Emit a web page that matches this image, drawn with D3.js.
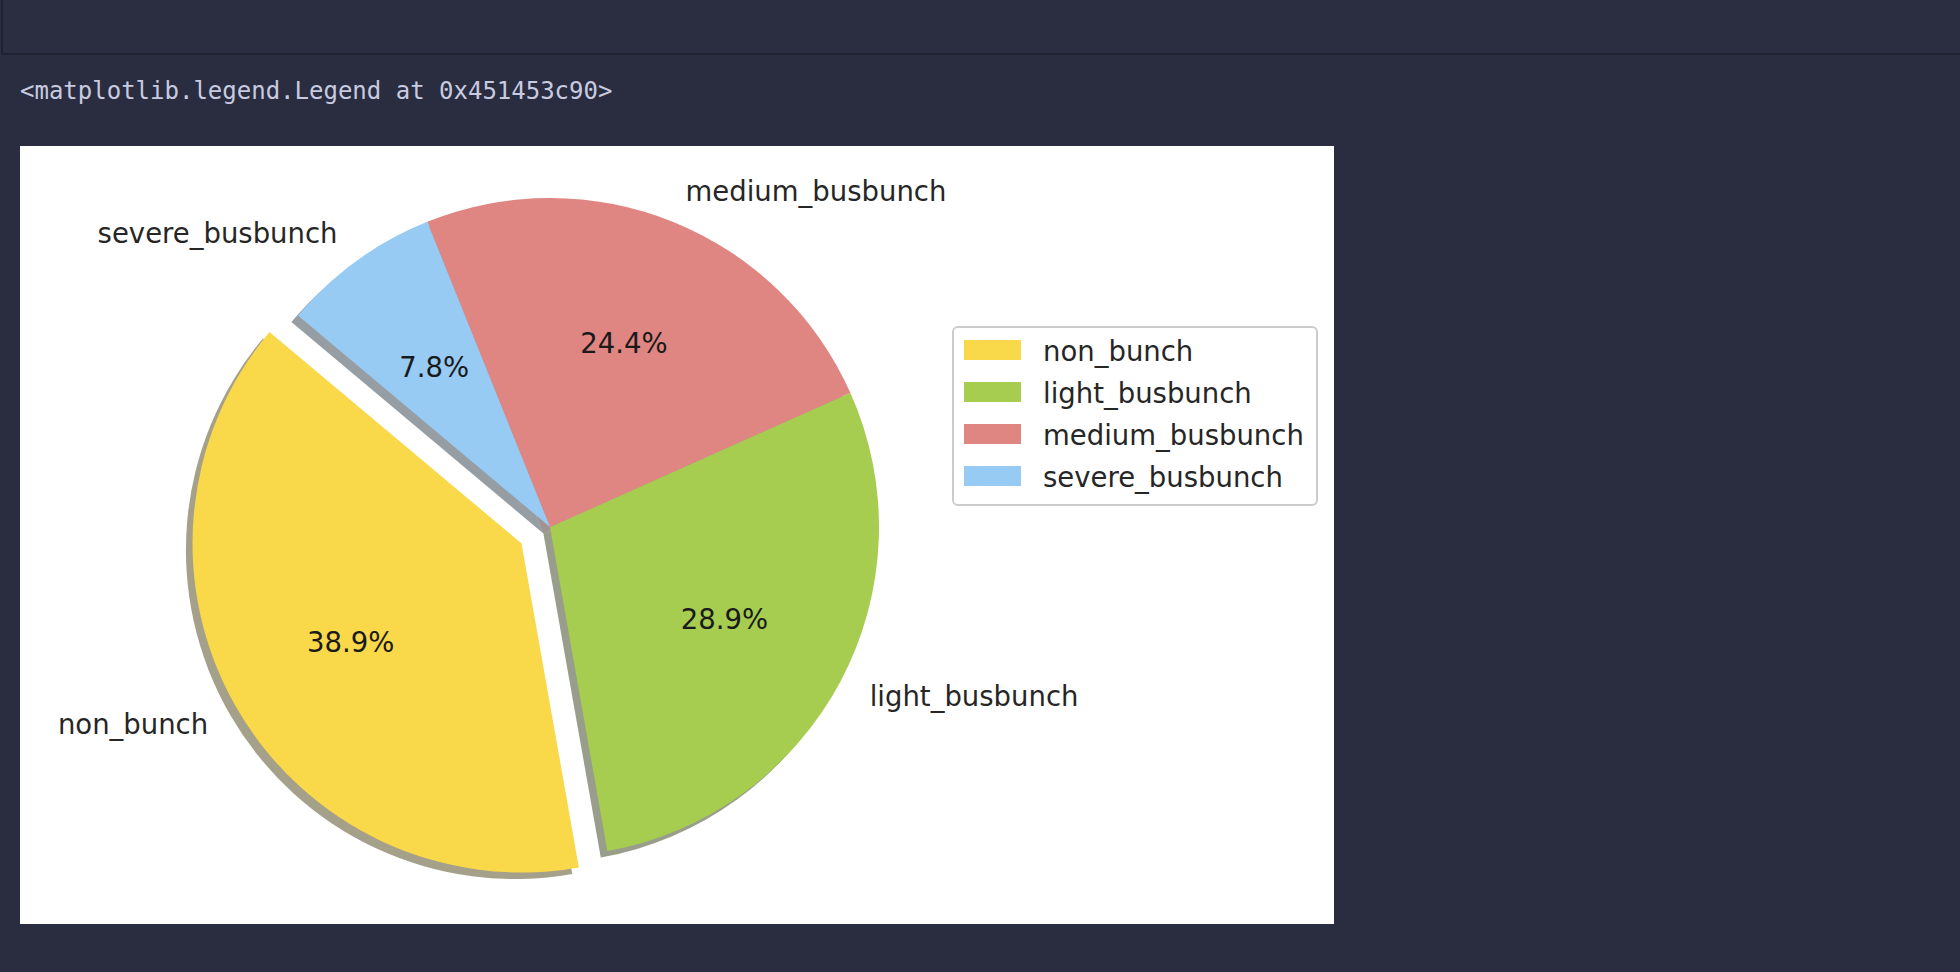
<!DOCTYPE html>
<html>
<head>
<meta charset="utf-8">
<script src="https://cdn.jsdelivr.net/npm/d3@7"></script>
<style>
  html, body { margin: 0; padding: 0; background: #2a2d3f; }
  svg { display: block; }
</style>
</head>
<body>
<svg id="chart" width="1960" height="972"></svg>
<script>
// ---- data ----
const categories = ["non_bunch", "light_busbunch", "medium_busbunch", "severe_busbunch"];
const shares = [38.9, 28.9, 24.4, 7.8];
const colors = ["#F9D84A", "#A6CD4F", "#E08682", "#97CBF4"];
const explode = [0.1, 0, 0, 0];
const headerText = "<matplotlib.legend.Legend at 0x451453c90>";

// ---- layout ----
const svg = d3.select("#chart");
const W = 1960, H = 972;

// top cell bar
svg.append("rect").attr("x", 2).attr("y", -2).attr("width", W).attr("height", 56)
  .attr("fill", "#2b2e40").attr("stroke", "#1f2230").attr("stroke-width", 2);

svg.append("text").attr("x", 20).attr("y", 99)
  .attr("font-family", "DejaVu Sans Mono, monospace").attr("font-size", 24)
  .attr("fill", "#c8cbe0").text(headerText);

// figure background
svg.append("rect").attr("x", 20).attr("y", 146).attr("width", 1314).attr("height", 778).attr("fill", "#ffffff");

const cx = 550, cy = 527, R = 329;
const fontSize = 27.5;
const font = "DejaVu Sans, sans-serif";

const data = categories.map((c, i) => ({ name: c, value: shares[i], color: colors[i], explode: explode[i] }));

// matplotlib startangle 140 (ccw) -> d3 angle 90-140 = -50 deg, going counterclockwise
const start = (90 - 140) * Math.PI / 180;
const pie = d3.pie().sort(null).value(d => d.value).startAngle(start).endAngle(start - 2 * Math.PI);
const arcs = pie(data);
const arc = d3.arc().innerRadius(0).outerRadius(R);

function mid(a) { return (a.startAngle + a.endAngle) / 2; }
function offset(a, frac) {
  const m = mid(a);
  return [Math.sin(m) * frac * R, -Math.cos(m) * frac * R];
}

const g = svg.append("g").attr("transform", `translate(${cx},${cy})`);

// shadows (drawn below all wedges)
const shadowDX = -0.02 * R, shadowDY = 0.02 * R;
g.selectAll("path.shadow").data(arcs).join("path")
  .attr("class", "shadow")
  .attr("d", arc)
  .attr("transform", a => { const o = offset(a, a.data.explode); return `translate(${o[0] + shadowDX},${o[1] + shadowDY})`; })
  .attr("fill", a => { const c = d3.rgb(a.data.color); return d3.rgb(c.r * 0.3, c.g * 0.3, c.b * 0.3); })
  .attr("fill-opacity", 0.5);

// wedges
g.selectAll("path.wedge").data(arcs).join("path")
  .attr("class", "wedge")
  .attr("d", arc)
  .attr("transform", a => { const o = offset(a, a.data.explode); return `translate(${o[0]},${o[1]})`; })
  .attr("fill", a => a.data.color);

// outer labels
g.selectAll("text.lbl").data(arcs).join("text")
  .attr("class", "lbl")
  .attr("x", a => offset(a, a.data.explode)[0] + offset(a, 1.1)[0])
  .attr("y", a => offset(a, a.data.explode)[1] + offset(a, 1.1)[1])
  .attr("dy", "0.34em")
  .attr("text-anchor", a => offset(a, 1.1)[0] > 0 ? "start" : "end")
  .attr("font-family", font).attr("font-size", fontSize).attr("fill", "#262626")
  .text(a => a.data.name);

// percentage labels
g.selectAll("text.pct").data(arcs).join("text")
  .attr("class", "pct")
  .attr("x", a => offset(a, a.data.explode)[0] + offset(a, 0.6)[0])
  .attr("y", a => offset(a, a.data.explode)[1] + offset(a, 0.6)[1])
  .attr("dy", "0.34em")
  .attr("text-anchor", "middle")
  .attr("font-family", font).attr("font-size", fontSize).attr("fill", "#1a1a1a")
  .text(a => a.data.value.toFixed(1) + "%");

// legend
const lg = svg.append("g").attr("transform", "translate(953,327)");
lg.append("rect").attr("width", 364).attr("height", 178).attr("rx", 5).attr("ry", 5)
  .attr("fill", "#ffffff").attr("fill-opacity", 0.8).attr("stroke", "#cccccc").attr("stroke-width", 2);
const rowY = d3.scalePoint().domain(categories).range([23, 149]);
const rows = lg.selectAll("g.row").data(data).join("g").attr("class", "row")
  .attr("transform", d => `translate(0,${rowY(d.name)})`);
rows.append("rect").attr("x", 11).attr("y", -10).attr("width", 57).attr("height", 20).attr("fill", d => d.color);
rows.append("text").attr("x", 90).attr("y", 2.5).attr("dy", "0.32em")
  .attr("font-family", font).attr("font-size", fontSize).attr("fill", "#262626")
  .text(d => d.name);
</script>
</body>
</html>
